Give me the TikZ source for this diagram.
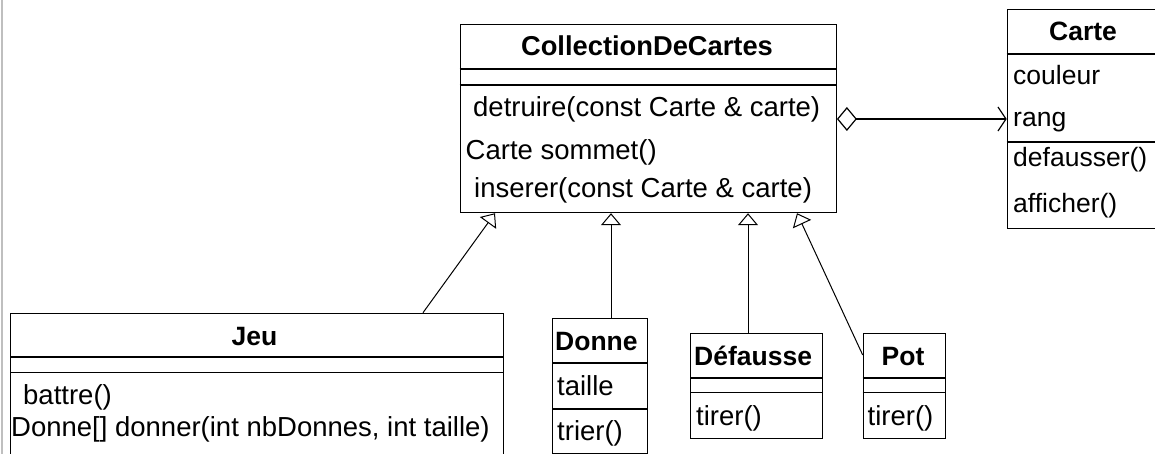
\documentclass[tikz,border=0pt]{standalone}
\usepackage{fontspec}
\setmainfont{Liberation Sans}
\usetikzlibrary{arrows.meta}
\tikzset{
  box/.style={draw=black, line width=1.2pt, fill=white, inner sep=0pt, anchor=north west},
  sepline/.style={line width=1.2pt},
  ttl/.style={font=\fontsize{26.5}{30}\selectfont\bfseries, inner sep=0pt, anchor=base},
  ttlw/.style={font=\fontsize{26.5}{30}\selectfont\bfseries, inner sep=0pt, anchor=base west},
  txt/.style={font=\fontsize{27.5}{32}\selectfont, inner sep=0pt, anchor=base west},
  txts/.style={font=\fontsize{26.5}{30}\selectfont, inner sep=0pt, anchor=base west},
  gen/.style={line width=1pt, -{Triangle[open, width=20pt, length=12pt]}},
  agg/.style={line width=1.2pt, {Diamond[open, length=20pt, width=24pt]}-{Straight Barb[length=8pt, width=24pt]}},
}
\begin{document}
\begin{tikzpicture}[x=1pt, y=-1pt]
\useasboundingbox (0,0) rectangle (1155,454);
\clip (0,0) rectangle (1155,454);
\draw[gray!50, line width=2pt] (1.5,0) -- (1.5,454);

% CollectionDeCartes
\node[box, minimum width=376.2pt, minimum height=188pt] (coll) at (459.5,24) {};
\draw[sepline] ([yshift=-45pt]coll.north west) -- ([yshift=-45pt]coll.north east);
\draw[sepline] ([yshift=-61pt]coll.north west) -- ([yshift=-61pt]coll.north east);
\node[ttl, font=\fontsize{27.3}{30}\selectfont\bfseries] (collT) at (647,56) {CollectionDeCartes};
\node[txt] (collM1) at (473,116.5) {detruire(const Carte \& carte)};
\node[txt] (collM2) at (465.5,159.3) {Carte sommet()};
\node[txt] (collM3) at (474,197.5) {inserer(const Carte \& carte)};

% Carte
\node[box, minimum width=153.3pt, minimum height=219pt] (carte) at (1006.7,9) {};
\draw[sepline] ([yshift=-45pt]carte.north west) -- ([yshift=-45pt]carte.north east);
\draw[sepline] ([yshift=-133pt]carte.north west) -- ([yshift=-133pt]carte.north east);
\node[ttl] (carteT) at (1083,40.7) {Carte};
\node[txts] (carteA1) at (1013,85) {couleur};
\node[txts] (carteA2) at (1013,126.5) {rang};
\node[txts] (carteM1) at (1013,166.7) {defausser()};
\node[txts] (carteM2) at (1013,212.5) {afficher()};

% Jeu
\node[box, minimum width=493pt, minimum height=160pt] (jeu) at (10,312.7) {};
\draw[sepline] ([yshift=-44.3pt]jeu.north west) -- ([yshift=-44.3pt]jeu.north east);
\draw[sepline] ([yshift=-60pt]jeu.north west) -- ([yshift=-60pt]jeu.north east);
\node[ttl] (jeuT) at (254.5,345) {Jeu};
\node[txt] (jeuM1) at (23,404) {battre()};
\node[txt] (jeuM2) at (11,436.7) {Donne[] donner(int nbDonnes, int taille)};

% Donne
\node[box, minimum width=95pt, minimum height=135pt] (donne) at (552,317.7) {};
\draw[sepline] ([yshift=-45.3pt]donne.north west) -- ([yshift=-45.3pt]donne.north east);
\draw[sepline] ([yshift=-91.3pt]donne.north west) -- ([yshift=-91.3pt]donne.north east);
\node[ttlw] (donneT) at (555,350) {Donne};
\node[txt] (donneA) at (557,395) {taille};
\node[txt] (donneM) at (557,440) {trier()};

% Defausse
\node[box, minimum width=131.7pt, minimum height=105.3pt] (defausse) at (690,332.7) {};
\draw[sepline] ([yshift=-45.3pt]defausse.north west) -- ([yshift=-45.3pt]defausse.north east);
\draw[sepline] ([yshift=-60pt]defausse.north west) -- ([yshift=-60pt]defausse.north east);
\node[ttlw] (defausseT) at (694,365) {Défausse};
\node[txt] (defausseM) at (696,425) {tirer()};

% Pot
\node[box, minimum width=82.3pt, minimum height=105.3pt] (pot) at (862.7,332.7) {};
\draw[sepline] ([yshift=-45.3pt]pot.north west) -- ([yshift=-45.3pt]pot.north east);
\draw[sepline] ([yshift=-60pt]pot.north west) -- ([yshift=-60pt]pot.north east);
\node[ttl] (potT) at (903,365) {Pot};
\node[txt] (potM) at (867.5,425) {tirer()};

% connectors
\draw[gen] ([xshift=413pt]jeu.north west) -- ([xshift=35.5pt]coll.south west);
\draw[gen] ([xshift=59pt]donne.north west) -- ([xshift=151.5pt]coll.south west);
\draw[gen] ([xshift=58pt]defausse.north west) -- ([xshift=288.5pt]coll.south west);
\draw[gen] ([yshift=-22.3pt]pot.north west) -- ([xshift=337.5pt]coll.south west);
\draw[agg] ([yshift=-95pt]coll.north east) -- ([yshift=-110pt]carte.north west);
\end{tikzpicture}
\end{document}
